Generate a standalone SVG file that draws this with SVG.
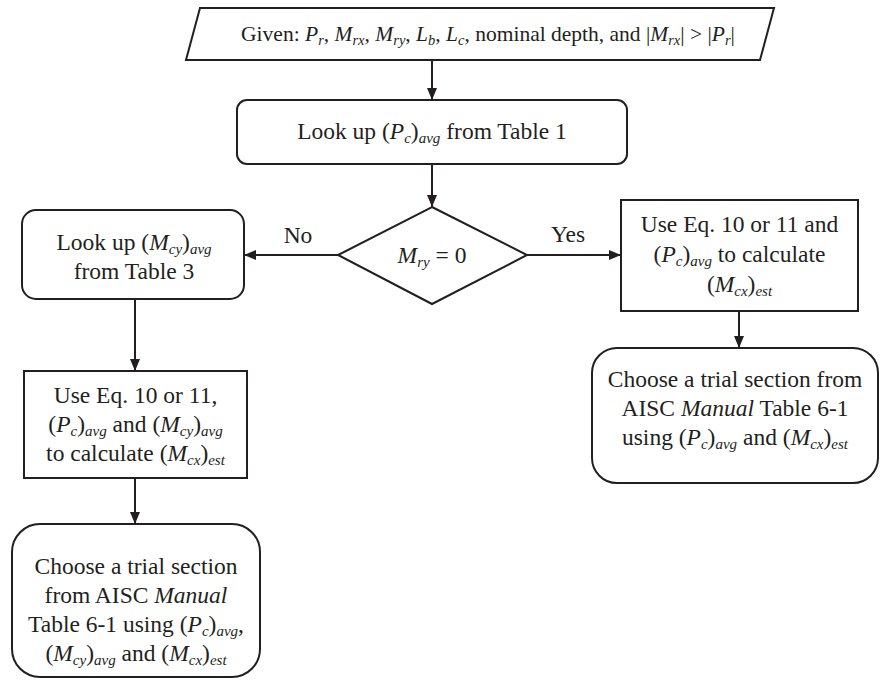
<svg xmlns="http://www.w3.org/2000/svg" width="880" height="681" viewBox="0 0 880 681">
<style>
.box{fill:#fff;stroke:#231f20;stroke-width:2}
.c{fill:none;stroke:#231f20;stroke-width:2}
text{font-family:'Liberation Serif','Times New Roman','DejaVu Serif',serif;font-size:23.5px;fill:#231f20;text-anchor:middle}
.g{font-size:21.5px}
.i{font-style:italic}
.s{font-style:italic;font-size:15px}
.g .s{font-size:14.5px}
</style>
<defs>
<marker id="ah" viewBox="0 0 12 10" refX="12" refY="5" markerWidth="12" markerHeight="10" markerUnits="userSpaceOnUse" orient="auto">
<path d="M0,0 L12,5 L0,10 Z" fill="#231f20"/>
</marker>
</defs>
<rect width="880" height="681" fill="#fff"/>
<g id="connectors">
<line class="c" x1="432" y1="60" x2="432" y2="100" marker-end="url(#ah)"/>
<line class="c" x1="432" y1="164" x2="432" y2="207" marker-end="url(#ah)"/>
<line class="c" x1="338" y1="255" x2="244" y2="255" marker-end="url(#ah)"/>
<line class="c" x1="527" y1="255" x2="621" y2="255" marker-end="url(#ah)"/>
<line class="c" x1="739" y1="311" x2="739" y2="348" marker-end="url(#ah)"/>
<line class="c" x1="135" y1="299" x2="135" y2="371" marker-end="url(#ah)"/>
<line class="c" x1="135" y1="478" x2="135" y2="524" marker-end="url(#ah)"/>
<text x="298" y="243">No</text>
<text x="568" y="242">Yes</text>
</g>
<g id="given">
<polygon class="box" points="200,8 774,8 760,60 186,60"/>
<text class="g" x="488" y="41">Given: <tspan class="i">P</tspan><tspan class="s" dy="4">r</tspan><tspan dy="-4">, </tspan><tspan class="i">M</tspan><tspan class="s" dy="4">rx</tspan><tspan dy="-4">, </tspan><tspan class="i">M</tspan><tspan class="s" dy="4">ry</tspan><tspan dy="-4">, </tspan><tspan class="i">L</tspan><tspan class="s" dy="4">b</tspan><tspan dy="-4">, </tspan><tspan class="i">L</tspan><tspan class="s" dy="4">c</tspan><tspan dy="-4">, nominal depth, and |</tspan><tspan class="i">M</tspan><tspan class="s" dy="4">rx</tspan><tspan dy="-4">| &gt; |</tspan><tspan class="i">P</tspan><tspan class="s" dy="4">r</tspan><tspan dy="-4">|</tspan></text>
</g>
<g id="lookPc">
<rect class="box" x="237" y="100" width="390" height="64" rx="10"/>
<text x="432" y="139">Look up (<tspan class="i">P</tspan><tspan class="s" dy="4">c</tspan><tspan dy="-4">)</tspan><tspan class="s" dy="4">avg</tspan><tspan dy="-4"> from Table 1</tspan></text>
</g>
<g id="decision">
<polygon class="box" points="432,207 527,255 432,304 338,255"/>
<text x="432" y="263"><tspan class="i">M</tspan><tspan class="s" dy="4">ry</tspan><tspan dy="-4"> = 0</tspan></text>
</g>
<g id="lookMcy">
<rect class="box" x="22" y="210" width="222" height="89" rx="14"/>
<text x="134" y="250">Look up (<tspan class="i">M</tspan><tspan class="s" dy="4">cy</tspan><tspan dy="-4">)</tspan><tspan class="s" dy="4">avg</tspan></text>
<text x="134" y="279">from Table 3</text>
</g>
<g id="eqRight">
<rect class="box" x="621" y="200" width="237" height="111"/>
<text x="739.5" y="232">Use Eq. 10 or 11 and</text>
<text x="739.5" y="262">(<tspan class="i">P</tspan><tspan class="s" dy="4">c</tspan><tspan dy="-4">)</tspan><tspan class="s" dy="4">avg</tspan><tspan dy="-4"> to calculate</tspan></text>
<text x="739.5" y="292">(<tspan class="i">M</tspan><tspan class="s" dy="4">cx</tspan><tspan dy="-4">)</tspan><tspan class="s" dy="4">est</tspan></text>
</g>
<g id="chooseRight">
<rect class="box" x="592" y="348" width="286" height="135" rx="25"/>
<text x="735" y="387">Choose a trial section from</text>
<text x="735" y="416">AISC <tspan class="i">Manual</tspan> Table 6-1</text>
<text x="735" y="445">using (<tspan class="i">P</tspan><tspan class="s" dy="4">c</tspan><tspan dy="-4">)</tspan><tspan class="s" dy="4">avg</tspan><tspan dy="-4"> and (</tspan><tspan class="i">M</tspan><tspan class="s" dy="4">cx</tspan><tspan dy="-4">)</tspan><tspan class="s" dy="4">est</tspan></text>
</g>
<g id="eqLeft">
<rect class="box" x="24" y="371" width="223" height="107"/>
<text x="135.5" y="403">Use Eq. 10 or 11,</text>
<text x="135.5" y="432">(<tspan class="i">P</tspan><tspan class="s" dy="4">c</tspan><tspan dy="-4">)</tspan><tspan class="s" dy="4">avg</tspan><tspan dy="-4"> and (</tspan><tspan class="i">M</tspan><tspan class="s" dy="4">cy</tspan><tspan dy="-4">)</tspan><tspan class="s" dy="4">avg</tspan></text>
<text x="135.5" y="461">to calculate (<tspan class="i">M</tspan><tspan class="s" dy="4">cx</tspan><tspan dy="-4">)</tspan><tspan class="s" dy="4">est</tspan></text>
</g>
<g id="chooseLeft">
<rect class="box" x="12" y="524" width="248" height="153" rx="28"/>
<text x="136" y="574">Choose a trial section</text>
<text x="136" y="603">from AISC <tspan class="i">Manual</tspan></text>
<text x="136" y="632">Table 6-1 using (<tspan class="i">P</tspan><tspan class="s" dy="4">c</tspan><tspan dy="-4">)</tspan><tspan class="s" dy="4">avg</tspan><tspan dy="-4">,</tspan></text>
<text x="136" y="661">(<tspan class="i">M</tspan><tspan class="s" dy="4">cy</tspan><tspan dy="-4">)</tspan><tspan class="s" dy="4">avg</tspan><tspan dy="-4"> and (</tspan><tspan class="i">M</tspan><tspan class="s" dy="4">cx</tspan><tspan dy="-4">)</tspan><tspan class="s" dy="4">est</tspan></text>
</g>
</svg>
